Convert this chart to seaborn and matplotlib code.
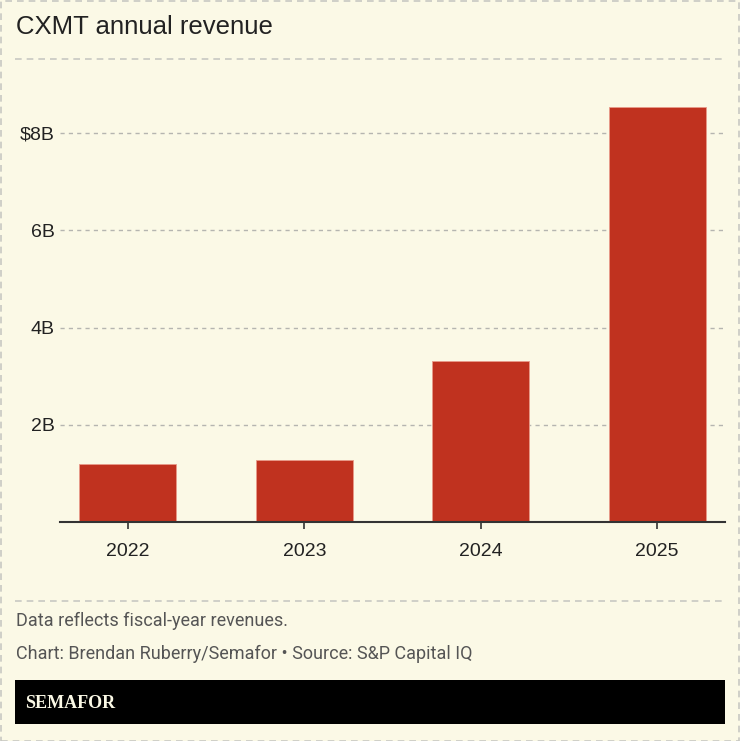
import matplotlib
matplotlib.use("Agg")
import matplotlib.pyplot as plt
from matplotlib import font_manager
from matplotlib.patches import Rectangle
from matplotlib.lines import Line2D
import seaborn as sns
import pandas as pd

years = ["2022", "2023", "2024", "2025"]
revenue_b = [1.19, 1.27, 3.31, 8.54]
ytick_vals = [2, 4, 6, 8]
ytick_labels = ["2B", "4B", "6B", "$8B"]
title = "CXMT annual revenue"
note = "Data reflects fiscal-year revenues."
credit = "Chart: Brendan Ruberry/Semafor \u2022 Source: S&P Capital IQ"
brand = "SEMAFOR"

BG = "#fbf9e6"
BAR = "#c0321f"
TXT = "#222222"
GREY = "#555555"

names = {f.name for f in font_manager.fontManager.ttflist}
narrow = "Liberation Sans Narrow" if "Liberation Sans Narrow" in names else "Roboto"

sns.set_theme(style="white")
plt.rcParams["font.family"] = ["Liberation Sans", "DejaVu Sans"]

W, H = 740, 741
fig = plt.figure(figsize=(W / 100, H / 100), dpi=100, facecolor=BG)

def fx(px):
    return px / W

def fy(py):
    return 1 - py / H

# axes: baseline at y=522, 2B per 48.6 px
ymax = 9.5
ax_bottom = 522
ax_top = 522 - ymax * 48.6
ax = fig.add_axes([fx(60), fy(ax_bottom), fx(725) - fx(60), (ax_bottom - ax_top) / H])
ax.set_facecolor(BG)

df = pd.DataFrame({"year": years, "revenue": revenue_b})
sns.barplot(data=df, x="year", y="revenue", color=BAR, width=0.55, saturation=1,
            edgecolor="#e89a8a", linewidth=0.6, ax=ax, zorder=3)

ax.set_xlim(-0.385, 3.385)
ax.set_ylim(0, ymax)
ax.set_yticks(ytick_vals)
ax.set_yticklabels(ytick_labels)
ax.set_xlabel("")
ax.set_ylabel("")
for s in ["top", "right", "left"]:
    ax.spines[s].set_visible(False)
ax.spines["bottom"].set_color("#333333")
ax.spines["bottom"].set_linewidth(1.5)
ax.spines["bottom"].set_zorder(4)
ax.tick_params(axis="y", length=0, pad=4, labelsize=14, labelcolor=TXT)
ax.tick_params(axis="x", length=5, width=1.2, color="#333333", pad=10, labelsize=14,
               labelcolor=TXT, bottom=True)
ax.yaxis.grid(True, color="#b5b5b0", linestyle=(0, (3, 3)), linewidth=1, zorder=0)
ax.xaxis.grid(False)
ax.set_axisbelow(True)

# title
fig.text(fx(16), fy(27), title, fontsize=18.5, color=TXT, ha="left", va="center")

# separators
for yy in (59, 601):
    fig.add_artist(Line2D([fx(15), fx(725)], [fy(yy), fy(yy)], color="#c8c8c2",
                          linewidth=1.2, linestyle=(0, (4, 3))))

# footer text
fig.text(fx(16), fy(621), note, fontsize=13, color=GREY, ha="left", va="center",
         family=[narrow, "DejaVu Sans"])
fig.text(fx(16), fy(654), credit, fontsize=13, color=GREY, ha="left", va="center",
         family=[narrow, "DejaVu Sans"])

# brand bar
fig.add_artist(Rectangle((fx(15), fy(724)), fx(725) - fx(15), (724 - 680) / H,
                         facecolor="black", edgecolor="none", transform=fig.transFigure))
fig.text(fx(25), fy(703), brand, fontsize=13, color="#fbf9e6", ha="left", va="center",
         fontweight="bold", family=["Liberation Serif", "DejaVu Serif"])

# outer dashed border
fig.add_artist(Rectangle((0.5 / W, 0.5 / H), 1 - 1.5 / W, 1 - 1.5 / H, facecolor="none",
                         edgecolor="#c8c8c2", linewidth=1.2, linestyle=(0, (4, 3)),
                         transform=fig.transFigure))

fig.savefig("out.png", dpi=100, facecolor=BG)
